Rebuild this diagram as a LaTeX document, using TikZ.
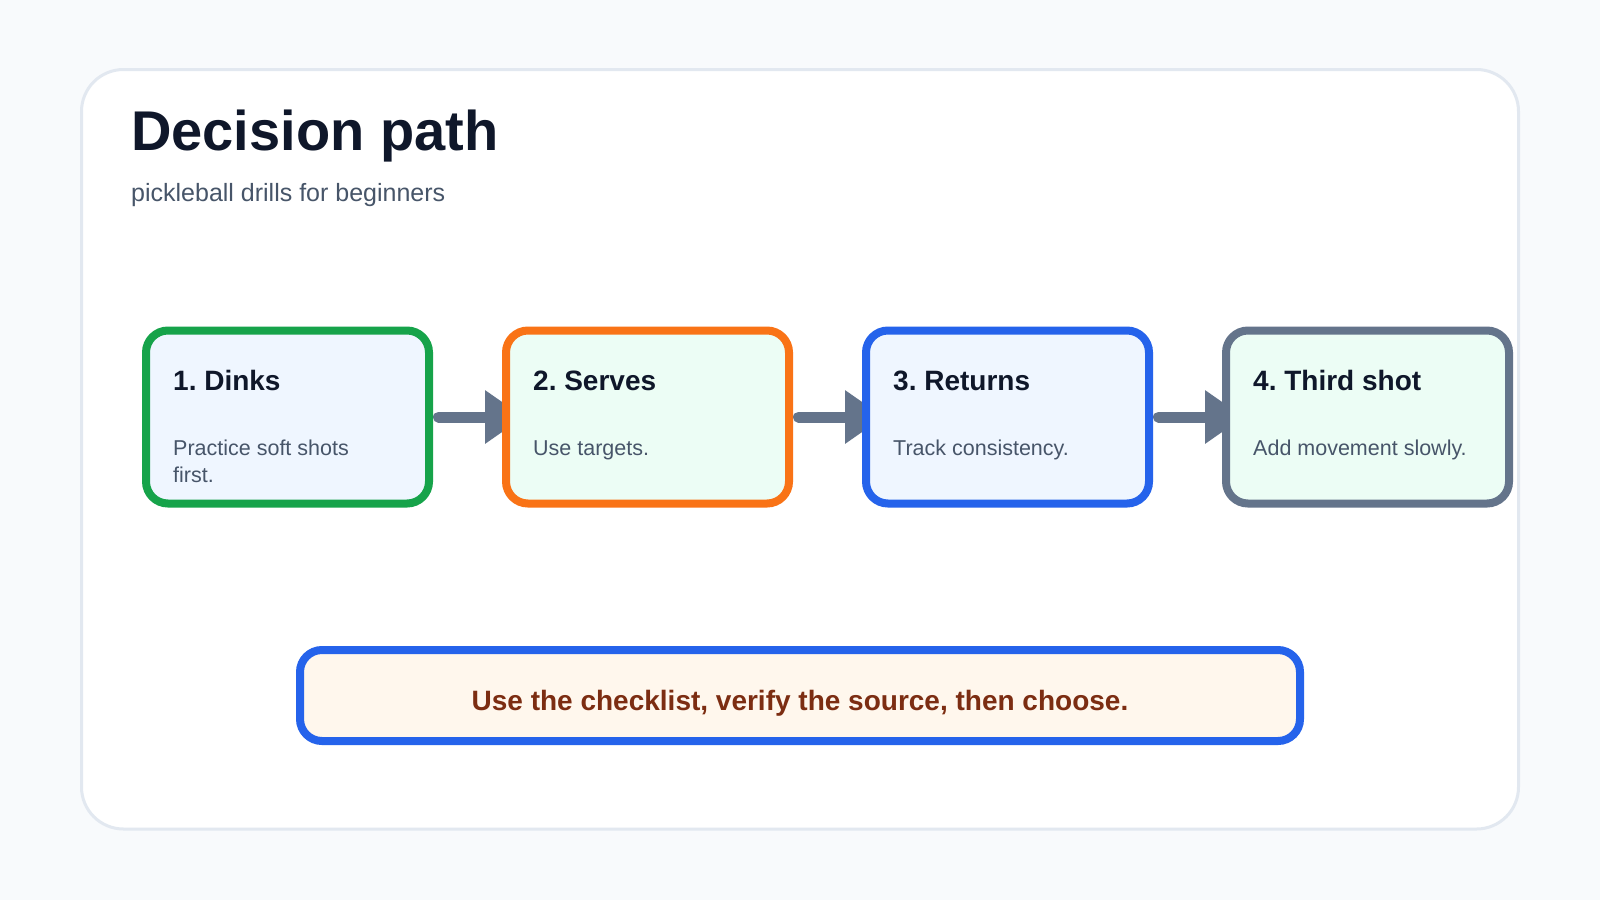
\documentclass[tikz,border=0pt]{standalone}
\usepackage{fontspec}
\setmainfont{Liberation Sans}
\usetikzlibrary{positioning, arrows.meta, backgrounds}
\frenchspacing

\definecolor{pagebg}{HTML}{F8FAFC}
\definecolor{cardline}{HTML}{E2E8F0}
\definecolor{ink}{HTML}{0F172A}
\definecolor{muted}{HTML}{475569}
\definecolor{slate}{HTML}{64748B}
\definecolor{stepgreen}{HTML}{16A34A}
\definecolor{steporange}{HTML}{F97316}
\definecolor{stepblue}{HTML}{2563EB}
\definecolor{bluewash}{HTML}{EFF6FF}
\definecolor{greenwash}{HTML}{ECFDF5}
\definecolor{notefill}{HTML}{FFF7ED}
\definecolor{notetext}{HTML}{7C2D12}

\begin{document}
\begin{tikzpicture}[x=1pt, y=-1pt,
      every node/.style={inner sep=0pt},
      card/.style={draw=cardline, line width=3pt, fill=white, rounded corners=42pt},
      stepbox/.style={draw, line width=8pt, rounded corners=22pt,
                      minimum width=283pt, minimum height=173pt},
      head/.style={anchor=base west, text=ink,
                   font=\fontsize{28}{32}\selectfont\bfseries},
      desc/.style={anchor=base west, text=muted, align=left,
                   font=\fontsize{21.5}{27}\selectfont},
      note/.style={draw=stepblue, fill=notefill, line width=8pt, rounded corners=22pt,
                   minimum width=1000pt, minimum height=91pt,
                   text height=29pt, text depth=0pt, text=notetext,
                   font=\fontsize{28}{32}\selectfont\bfseries},
      arrow/.style={-{Triangle[length=39pt, width=51pt]}, line width=11pt,
                    line cap=round, draw=slate},
  ]
    \useasboundingbox (0,0) rectangle (1600,900);

    %% --- heading ---
    \node[anchor=base west, text=ink, font=\fontsize{56}{60}\selectfont\bfseries]
      (title) at (131,150) {Decision path};
    \node[anchor=base west, text=muted, font=\fontsize{25}{29}\selectfont]
      (subtitle) at (131,201) {pickleball drills for beginners};

    %% --- four steps, left to right ---
    \node[stepbox, draw=stepgreen, fill=bluewash] (dinks) at (287.5,417) {};
    \node[stepbox, draw=steporange, fill=greenwash, right=69pt of dinks] (serves) {};
    \node[stepbox, draw=stepblue, fill=bluewash, right=69pt of serves] (returns) {};
    \node[stepbox, draw=slate, fill=greenwash, right=69pt of returns] (third) {};

    \node[head] (dinks-t)   at ([xshift=31pt, yshift=-64pt]dinks.north west)   {1. Dinks};
    \node[head] (serves-t)  at ([xshift=31pt, yshift=-64pt]serves.north west)  {2. Serves};
    \node[head] (returns-t) at ([xshift=31pt, yshift=-64pt]returns.north west) {3. Returns};
    \node[head] (third-t)   at ([xshift=31pt, yshift=-64pt]third.north west)   {4. Third shot};

    % base of a two-line node sits on its last line
    \node[desc] (dinks-d)   at ([xshift=31pt, yshift=-156pt]dinks.north west)   {Practice soft shots\\first.};
    \node[desc] (serves-d)  at ([xshift=31pt, yshift=-129pt]serves.north west)  {Use targets.};
    \node[desc] (returns-d) at ([xshift=31pt, yshift=-129pt]returns.north west) {Track consistency.};
    \node[desc] (third-d)   at ([xshift=31pt, yshift=-129pt]third.north west)   {Add movement slowly.};

    %% --- closing note ---
    \node[note] (verdict) at (800,695.5) {Use the checklist, verify the source, then choose.};

    %% --- page, card and connectors behind the boxes ---
    \begin{scope}[on background layer]
      \fill[pagebg] (0,0) rectangle (1600,900);
      \draw[card] (81.5,69.5) rectangle (1518.5,829);
      \draw[arrow] ([xshift=5.5pt]dinks.east) -- ([xshift=22pt]serves.west);
      \draw[arrow] ([xshift=5.5pt]serves.east) -- ([xshift=22pt]returns.west);
      \draw[arrow] ([xshift=5.5pt]returns.east) -- ([xshift=22pt]third.west);
    \end{scope}
  \end{tikzpicture}
\end{document}
